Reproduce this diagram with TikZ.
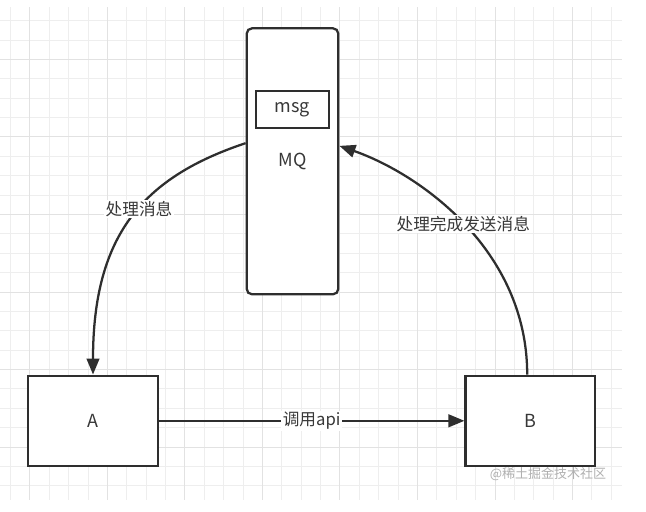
\documentclass[tikz,border=0pt]{standalone}
\usepackage{fontspec}
\setmainfont{Noto Sans CJK SC}
\usepackage{tikz}
\usetikzlibrary{arrows.meta,positioning,calc}
\usepackage{xcolor}
\definecolor{ink}{HTML}{2E2E2E}
\definecolor{txt}{HTML}{383838}
\definecolor{gridlo}{HTML}{EEEEEE}
\definecolor{gridhi}{HTML}{E2E2E2}
\definecolor{wmark}{HTML}{B0B0B0}

\begin{document}
\begin{tikzpicture}[x=0.75pt,y=-0.75pt,
  box/.style={draw=ink,line width=1.7pt,fill=white,text=txt,inner sep=0pt,font=\fontsize{13.5}{16}\selectfont},
  lbl/.style={fill=white,text=txt,inner sep=1pt,font=\fontsize{12.5}{15}\selectfont},
  arr/.style={-{Triangle[length=12pt,width=9.5pt]},draw=ink,line width=1.7pt},
  gln/.style={line width=0.75pt},
  node distance=47pt]
\fill[white] (0,0) rectangle (646,511);
\useasboundingbox (0,0) rectangle (646,511);
\foreach \i in {0,...,31} \draw[gln,gridlo] (10.5+19.38*\i,7) -- (10.5+19.38*\i,500);
\foreach \j in {0,...,24} \draw[gln,gridlo] (0,20.7+19.38*\j) -- (622,20.7+19.38*\j);
\foreach \i in {1,5,...,29} \draw[gln,gridhi] (10.5+19.38*\i,7) -- (10.5+19.38*\i,500);
\foreach \j in {2,6,...,22} \draw[gln,gridhi] (0,20.7+19.38*\j) -- (622,20.7+19.38*\j);
\node[box,rounded corners=4pt,minimum width=68.7pt,minimum height=199.5pt] (mq) at (292.5,161.3) {MQ};
\node[box,minimum width=55pt,minimum height=28pt,below=47pt of mq.north] (msg) {msg};
\node[box,minimum width=97pt,minimum height=67.7pt] (A) at (93,420.8) {A};
\node[box,minimum width=97pt,minimum height=67.7pt,right=229.2pt of A] (B) {B};
\draw[arr] (A) -- node[lbl] {调用api} (B);
\draw[arr] ($(mq.north west)+(0,116)$) .. controls +(-102,34) and +(0,-140) .. node[lbl,pos=0.45] {处理消息} (A.north);
\draw[arr] ($(B.north)+(-3,0)$) .. controls +(0,-125) and +(80,28) .. node[lbl] {处理完成发送消息} ($(mq.north east)+(0,118.7)$);
\node[text=wmark,font=\fontsize{9.75}{12}\selectfont] (wm) at (548,474) {@稀土掘金技术社区};
\end{tikzpicture}
\end{document}
